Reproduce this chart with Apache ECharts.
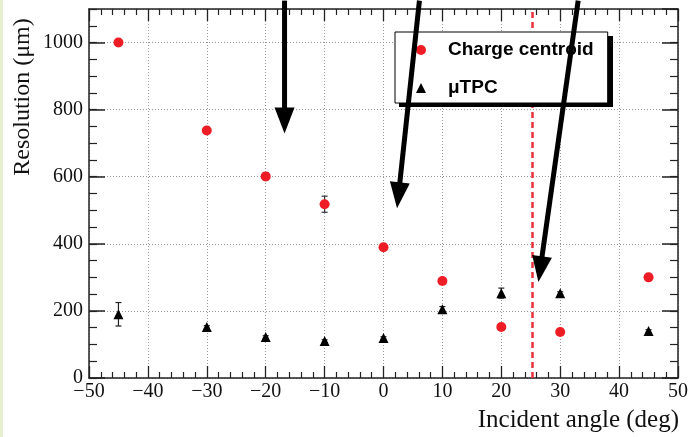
<!DOCTYPE html>
<html>
<head>
<meta charset="utf-8">
<script src="https://cdn.jsdelivr.net/npm/echarts@6/dist/echarts.min.js"></script>
<style>
  html, body { margin: 0; padding: 0; background: #fff; }
  #chart { width: 691px; height: 437px; }
</style>
</head>
<body>
<div id="chart"></div>
<script>
var angles = [-45, -30, -20, -10, 0, 10, 20, 30, 45];
var centroid = [1000, 738, 601, 518, 390, 289, 152, 137, 300];
var centroidErr = [4, 4, 10, 24, 8, 4, 4, 4, 4];
var utpc = [190, 152, 122, 110, 119, 205, 253, 253, 140];
var utpcErr = [35, 4, 4, 4, 4, 8, 15, 4, 4];
var cutAngle = 25.3;
// overlaid arrows, data space: [x0, y0, x1(tip), y1(tip)]
var arrows = [
  [-16.8, 1125, -16.8, 729],
  [6.1, 1125, 2.3, 506],
  [33.05, 1125, 26.3, 286]
];

var serif = 'Liberation Serif';
var red = '#ee1d25';

function pairs(xs, ys) { return xs.map(function(x, i) { return [x, ys[i]]; }); }
function errs(xs, ys, es) { return xs.map(function(x, i) { return [x, ys[i] - es[i], ys[i] + es[i]]; }); }
function minus(v) { return String(v).replace('-', '\u2212'); }

function errorBar(color) {
  return function(params, api) {
    var lo = api.coord([api.value(0), api.value(1)]);
    var hi = api.coord([api.value(0), api.value(2)]);
    var w = 3;
    var st = { stroke: color, lineWidth: 1.2 };
    return { type: 'group', children: [
      { type: 'line', shape: { x1: lo[0], y1: lo[1], x2: hi[0], y2: hi[1] }, style: st },
      { type: 'line', shape: { x1: lo[0] - w, y1: lo[1], x2: lo[0] + w, y2: lo[1] }, style: st },
      { type: 'line', shape: { x1: hi[0] - w, y1: hi[1], x2: hi[0] + w, y2: hi[1] }, style: st }
    ]};
  };
}

var frame = { show: true, onZero: false, lineStyle: { color: '#222', width: 1.5 } };
var noLine = { show: false, onZero: false };

var chart = echarts.init(document.getElementById('chart'), null, { renderer: 'canvas' });
chart.setOption({
  animation: false,
  backgroundColor: '#fff',
  grid: { left: 89, top: 9, right: 12, bottom: 59 },
  legend: {
    orient: 'vertical', left: 395, top: 32, z: 10,
    padding: [8, 14, 5, 21],
    itemWidth: 10, itemHeight: 10, itemGap: 18,
    backgroundColor: '#fff', borderColor: '#000', borderWidth: 1,
    data: ['Charge centroid', '\u03bcTPC'],
    textStyle: { fontFamily: 'Liberation Sans', fontWeight: 'bold', fontSize: 19, color: '#000', lineHeight: 20, padding: [0, 0, 0, 17] }
  },
  xAxis: [{
    type: 'value', min: -50, max: 50, interval: 10,
    axisLine: frame,
    axisTick: { inside: true, length: 12, lineStyle: { color: '#222', width: 1.3 } },
    minorTick: { show: true, splitNumber: 5, length: 6, lineStyle: { color: '#222', width: 1.2 } },
    axisLabel: { fontFamily: serif, fontSize: 20, color: '#111', margin: 4, formatter: minus },
    splitLine: { show: true, lineStyle: { color: '#999', type: [1, 2], width: 1 } }
  }, {
    type: 'value', position: 'top', min: -50, max: 50, interval: 10,
    axisLine: frame,
    axisTick: { inside: true, length: 12, lineStyle: { color: '#222', width: 1.3 } },
    minorTick: { show: true, splitNumber: 5, length: 6, lineStyle: { color: '#222', width: 1.2 } },
    axisLabel: { show: false }, splitLine: { show: false }
  }],
  yAxis: [{
    type: 'value', min: 0, max: 1100, interval: 200,
    axisLine: frame,
    axisTick: { inside: true, length: 16, lineStyle: { color: '#222', width: 1.5 } },
    axisLabel: { fontFamily: serif, fontSize: 20, color: '#111', margin: 6, showMaxLabel: false,
      formatter: function(v) { return String(v); } },
    splitLine: { show: true, lineStyle: { color: '#999', type: [1, 2], width: 1 } }
  }, {
    type: 'value', position: 'left', min: 0, max: 1100, interval: 50,
    axisLine: noLine,
    axisTick: { inside: true, length: 8, lineStyle: { color: '#222', width: 1.2 } },
    axisLabel: { show: false }, splitLine: { show: false }
  }, {
    type: 'value', position: 'right', min: 0, max: 1100, interval: 200,
    axisLine: frame,
    axisTick: { inside: true, length: 16, lineStyle: { color: '#222', width: 1.5 } },
    axisLabel: { show: false }, splitLine: { show: false }
  }, {
    type: 'value', position: 'right', min: 0, max: 1100, interval: 50,
    axisLine: noLine,
    axisTick: { inside: true, length: 8, lineStyle: { color: '#222', width: 1.2 } },
    axisLabel: { show: false }, splitLine: { show: false }
  }],
  series: [{
    type: 'custom', silent: true,
    renderItem: errorBar('#333'),
    encode: { x: 0, y: [1, 2] },
    data: errs(angles, centroid, centroidErr), z: 2
  }, {
    type: 'custom', silent: true,
    renderItem: errorBar('#222'),
    encode: { x: 0, y: [1, 2] },
    data: errs(angles, utpc, utpcErr), z: 2
  }, {
    name: 'Charge centroid', type: 'scatter', symbol: 'circle', symbolSize: 10,
    itemStyle: { color: red, opacity: 1 }, z: 3,
    data: pairs(angles, centroid),
    markLine: {
      silent: true, symbol: 'none', label: { show: false },
      lineStyle: { color: '#e8323c', type: [6, 4], width: 2.5 },
      data: [{ xAxis: cutAngle }]
    }
  }, {
    name: '\u03bcTPC', type: 'scatter', symbol: 'triangle', symbolSize: 10,
    itemStyle: { color: '#000', opacity: 1 }, z: 3,
    data: pairs(angles, utpc)
  }]
});

// axis titles, legend shadow, left strip, and the overlaid arrows
var g = [
  { type: 'rect', left: 0, top: 0, shape: { width: 3, height: 437 }, style: { fill: '#e6efcf' }, z: 1 },
  { type: 'rect', x: 399, y: 36, shape: { width: 214, height: 71 }, style: { fill: '#000' }, z: 9 },
  { type: 'text', x: 23, y: 97, rotation: Math.PI / 2, z: 5,
    style: { text: 'Resolution (\u03bcm)', font: '24px "' + serif + '"', fill: '#111', align: 'center', verticalAlign: 'middle' } },
  { type: 'text', x: 679, y: 420, z: 5,
    style: { text: 'Incident angle (deg)', font: '25px "' + serif + '"', fill: '#111', align: 'right', verticalAlign: 'middle' } }
];
arrows.forEach(function(a) {
  var p0 = chart.convertToPixel({ xAxisIndex: 0, yAxisIndex: 0 }, [a[0], a[1]]);
  var p1 = chart.convertToPixel({ xAxisIndex: 0, yAxisIndex: 0 }, [a[2], a[3]]);
  var dx = p1[0] - p0[0], dy = p1[1] - p0[1];
  var len = Math.sqrt(dx * dx + dy * dy);
  var ux = dx / len, uy = dy / len;
  var hl = 26, hw = 10;
  var bx = p1[0] - ux * hl, by = p1[1] - uy * hl;
  g.push({ type: 'line', z: 100, shape: { x1: p0[0], y1: p0[1], x2: bx + ux * 2, y2: by + uy * 2 },
    style: { stroke: '#000', lineWidth: 5 } });
  g.push({ type: 'polygon', z: 100, shape: { points: [
    [p1[0], p1[1]], [bx - uy * hw, by + ux * hw], [bx + uy * hw, by - ux * hw]
  ] }, style: { fill: '#000' } });
});
chart.setOption({ graphic: g });
</script>
</body>
</html>
